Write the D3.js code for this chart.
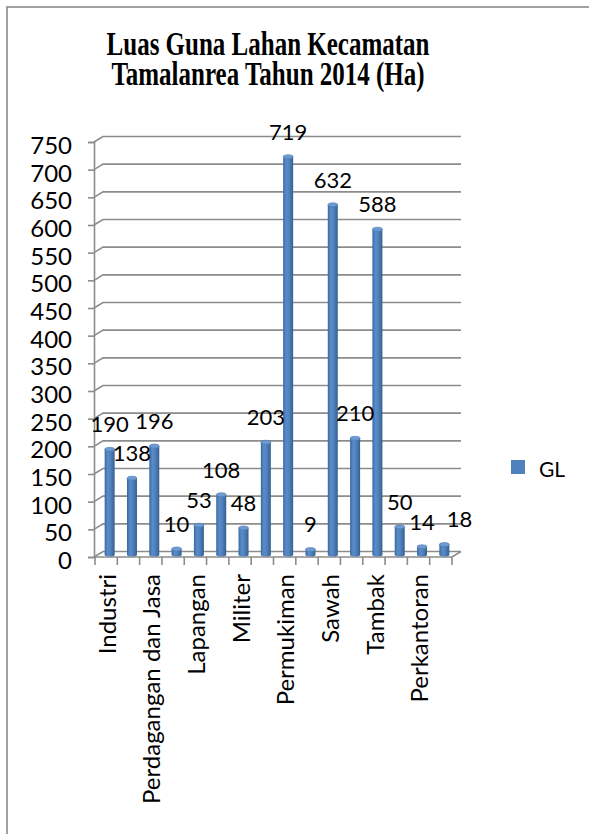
<!DOCTYPE html>
<html>
<head>
<meta charset="utf-8">
<script src="https://cdn.jsdelivr.net/npm/d3@7/dist/d3.min.js"></script>
<style>
  html, body { margin: 0; padding: 0; background: #fff; }
  svg { display: block; }
</style>
</head>
<body>
<svg id="chart" width="589" height="834"></svg>
<script>
// ---- data ----
const titleLines = ["Luas Guna Lahan Kecamatan", "Tamalanrea Tahun 2014 (Ha)"];
const categories = [
  "Industri", "Jalan", "Perdagangan dan Jasa", "Kuburan", "Lapangan", "Lahan Kosong",
  "Militer", "Pendidikan", "Permukiman", "Peribadatan", "Sawah", "Semak",
  "Tambak", "Kesehatan", "Perkantoran", "Ruang Terbuka Hijau"
];
const shownLabels = ["Industri", "Perdagangan dan Jasa", "Lapangan", "Militer",
  "Permukiman", "Sawah", "Tambak", "Perkantoran"];
const values = [190, 138, 196, 10, 53, 108, 48, 203, 719, 9, 632, 210, 588, 50, 14, 18];
const seriesName = "GL";
const yTicks = [0, 50, 100, 150, 200, 250, 300, 350, 400, 450, 500, 550, 600, 650, 700, 750];

// ---- layout ----
const svg = d3.select("#chart");
const SY = 1.34;          // vertical stretch of the title seen in the picture
const FONT = "Lato, 'Noto Sans', sans-serif";
const depthX = 9, depthY = -5.5;

// frame
svg.append("rect").attr("x", 7).attr("y", 7).attr("width", 700).attr("height", 900)
  .attr("fill", "#fff").attr("stroke", "#8a8a8a").attr("stroke-width", 1.6);

// title (one text element, two lines)
const title = svg.append("g").attr("transform", `translate(268,55) scale(1,${SY})`)
  .append("text").attr("text-anchor", "middle")
  .attr("font-family", "'Liberation Serif', 'Times New Roman', serif")
  .attr("font-weight", "bold").attr("font-size", 25).attr("fill", "#000");
titleLines.forEach((t, i) => {
  title.append("tspan").attr("x", 0).attr("y", i * 30 / SY).text(t);
});

const x = d3.scaleBand().domain(categories).range([95, 452]).padding(0);
const yFront = d3.scaleLinear().domain([0, 750]).range([557, 142]);
const yMid = d3.scaleLinear().domain([0, 750]).range([554.5, 139.5]);

const gridColor = "#8c8c8c";
// gridlines (back wall) with diagonal from axis
const grid = svg.append("g");
yTicks.forEach(t => {
  const yf = yFront(t);
  grid.append("path")
    .attr("d", `M${x.range()[0] - 1},${yf} L${x.range()[0] - 1 + depthX},${yf + depthY} L${x.range()[1] + depthX},${yf + depthY}`)
    .attr("fill", "none").attr("stroke", gridColor).attr("stroke-width", 1.6);
});

// floor front edge + right diagonal
svg.append("path")
  .attr("d", `M${x.range()[0] - 1},${yFront(0)} L${x.range()[1]},${yFront(0)} L${x.range()[1] + depthX},${yFront(0) + depthY}`)
  .attr("fill", "none").attr("stroke", gridColor).attr("stroke-width", 1.6);

// y axis
const yAxis = d3.axisLeft(yFront).tickValues(yTicks).tickSize(6).tickPadding(0).tickFormat(d3.format("d"));
const gy = svg.append("g").attr("transform", `translate(${x.range()[0] - 1},0)`).call(yAxis);
gy.select(".domain").attr("stroke", gridColor).attr("stroke-width", 1.6);
gy.selectAll(".tick line").attr("stroke", gridColor).attr("stroke-width", 1.6);
gy.selectAll(".tick text").remove();
gy.selectAll(".tick").append("text")
  .attr("x", 72 - (x.range()[0] - 1)).attr("y", 3)
  .attr("text-anchor", "end").attr("dy", "0.36em")
  .attr("font-family", FONT).attr("font-size", 24).attr("fill", "#000")
  .text(d => d);

// x axis ticks at band boundaries
const xb = svg.append("g");
const bounds = categories.map(c => x(c)).concat([x.range()[1]]);
xb.selectAll("line").data(bounds).join("line")
  .attr("x1", d => d).attr("x2", d => d)
  .attr("y1", yFront(0)).attr("y2", yFront(0) + 8)
  .attr("stroke", gridColor).attr("stroke-width", 1.6);

// x labels (every other one shown)
svg.append("g").selectAll("g").data(categories.filter(c => shownLabels.includes(c))).join("g")
  .attr("transform", c => `translate(${x(c) + x.bandwidth() / 2 + 1},574) rotate(-90)`)
  .append("text").attr("text-anchor", "end").attr("dy", "0.36em")
  .attr("font-family", FONT).attr("font-size", 24).attr("fill", "#000")
  .text(c => c);

// gradient for cylinders
const defs = svg.append("defs");
const grad = defs.append("linearGradient").attr("id", "barGrad")
  .attr("x1", "0%").attr("x2", "100%").attr("y1", "0%").attr("y2", "0%");
[["0%", "#3a679c"], ["30%", "#5a8ccb"], ["60%", "#4f81bd"], ["100%", "#36608f"]]
  .forEach(([o, c]) => grad.append("stop").attr("offset", o).attr("stop-color", c));

// bars
const bw = 10;
const bars = svg.append("g");
const data = categories.map((c, i) => ({ c, v: values[i] }));
const cx = d => x(d.c) + x.bandwidth() / 2 + 3.5;
bars.selectAll("rect").data(data).join("rect")
  .attr("x", d => cx(d) - bw / 2).attr("width", bw)
  .attr("y", d => yMid(d.v)).attr("height", d => yMid(0) - yMid(d.v))
  .attr("fill", "url(#barGrad)");
bars.selectAll("ellipse.bottom").data(data).join("ellipse").attr("class", "bottom")
  .attr("cx", cx).attr("cy", yMid(0)).attr("rx", bw / 2).attr("ry", 2)
  .attr("fill", "url(#barGrad)");
bars.selectAll("ellipse.top").data(data).join("ellipse").attr("class", "top")
  .attr("cx", cx).attr("cy", d => yMid(d.v)).attr("rx", bw / 2).attr("ry", 2)
  .attr("fill", "#6e9bd3").attr("stroke", "#4a78b0").attr("stroke-width", 0.6);

// data labels; a label that collides with its left neighbour (same height) is pushed right
const labels = svg.append("g").selectAll("text").data(data).join("text")
  .attr("x", cx).attr("y", d => yMid(d.v) - 25)
  .attr("text-anchor", "middle").attr("dy", "0.36em")
  .attr("font-family", FONT).attr("font-size", 22).attr("fill", "#000")
  .text(d => d.v);
const nodes = labels.nodes();
for (let i = 1; i < nodes.length; i++) {
  const prev = nodes[i - 1], cur = nodes[i];
  const py = +prev.getAttribute("y"), cy = +cur.getAttribute("y");
  const pr = +prev.getAttribute("x") + prev.getComputedTextLength() / 2;
  const cl = +cur.getAttribute("x") - cur.getComputedTextLength() / 2;
  if (Math.abs(py - cy) < 16 && cl < pr + 4) {
    cur.setAttribute("x", +cur.getAttribute("x") + (pr + 12 - cl));
  }
}

// legend
svg.append("rect").attr("x", 511).attr("y", 460).attr("width", 14).attr("height", 14)
  .attr("fill", "#4f81bd");
svg.append("text").attr("x", 539).attr("y", 469).attr("dy", "0.36em")
  .attr("font-family", FONT).attr("font-size", 21).attr("fill", "#000")
  .text(seriesName);
</script>
</body>
</html>
